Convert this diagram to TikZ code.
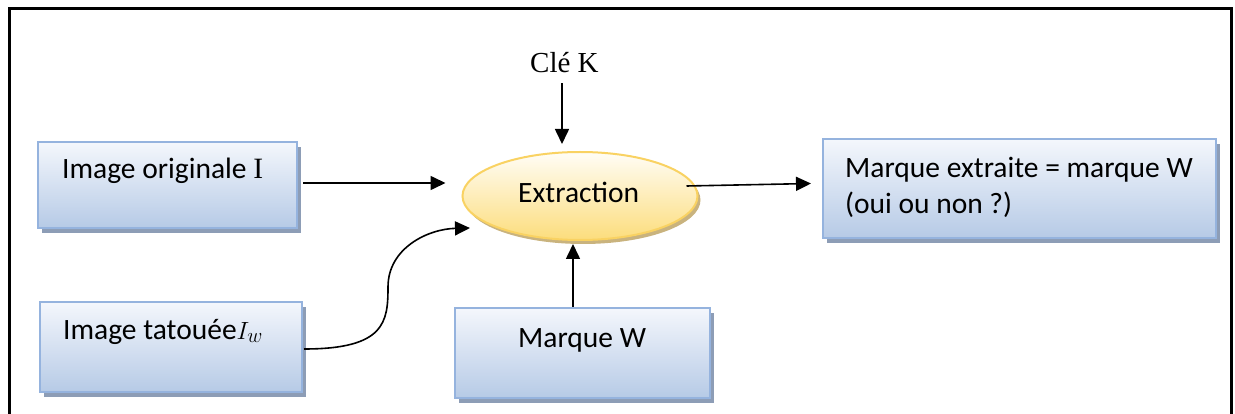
\documentclass[tikz,border=0pt]{standalone}
\usepackage{fontspec}
\setmainfont{Liberation Serif}
\newfontfamily\calib{Carlito}
\usetikzlibrary{arrows.meta,shadows,shapes.geometric}
\definecolor{boxtop}{HTML}{F4F7FC}
\definecolor{boxbot}{HTML}{B6CAE6}
\definecolor{boxline}{HTML}{95B3DE}
\definecolor{boxshadow}{HTML}{8D9DB6}
\definecolor{elltop}{HTML}{FFFDF6}
\definecolor{ellbot}{HTML}{FCDD7C}
\definecolor{ellline}{HTML}{F9D262}
\definecolor{ellshadow}{HTML}{C9B37E}
\tikzset{
  bluebox/.style={rectangle, draw=boxline, line width=2pt, top color=boxtop, bottom color=boxbot,
    drop shadow={shadow xshift=4pt, shadow yshift=-5pt, fill=boxshadow, opacity=1}, inner sep=0pt},
  yellowell/.style={ellipse, draw=ellline, line width=2pt, top color=elltop, bottom color=ellbot,
    drop shadow={shadow xshift=3pt, shadow yshift=-4pt, fill=ellshadow, opacity=1}, inner sep=0pt},
  lbl/.style={font=\calib\fontsize{29.5}{35}\selectfont, inner sep=0pt, anchor=base west},
  arr/.style={line width=1.6pt, -{Triangle[length=15pt,width=14pt]}},
}
\begin{document}
\begin{tikzpicture}[x=1pt,y=-1pt]
\useasboundingbox (0,0) rectangle (1235,414);
% outer frame, open at the bottom
\draw[line width=3pt] (9,414) -- (9,9) -- (1231.5,9) -- (1231.5,414);

% boxes
\node[bluebox, minimum width=259pt, minimum height=86pt] (b1) at (167.5,185) {};
\node[bluebox, minimum width=262pt, minimum height=90pt] (b4) at (171,347) {};
\node[bluebox, minimum width=255pt, minimum height=90pt] (b5) at (582.5,353) {};
\node[bluebox, minimum width=393pt, minimum height=99pt] (b3) at (1019.5,188.5) {};
\node[yellowell, minimum width=235pt, minimum height=88pt] (ell) at (580,196) {};

% texts
\node[lbl] (t1) at (62,179) {Image originale {\rmfamily I}};
\node[lbl] (t4) at (63,339) {Image tatouée$I_w$};
\node[lbl] (t5) at (518,347) {Marque W};
\node[lbl] (t3a) at (845,178) {Marque extraite = marque W};
\node[lbl] (t3b) at (845,214) {(oui ou non ?)};
\node[lbl] (te) at (518,203) {Extraction};
\node[font=\fontsize{29}{35}\selectfont, inner sep=0pt, anchor=base west] (k) at (530,73) {Clé K};

% connectors
\draw[arr] ([xshift=-18pt,yshift=-10pt]k.south -| ell.north) -- ([xshift=-18pt,yshift=7pt]ell.north);
\draw[arr] ([xshift=5pt,yshift=2pt]b1.east) -- ([xshift=-16pt,yshift=13pt]ell.west);
\draw[arr] ([xshift=-12pt,yshift=10pt]ell.east) -- ([xshift=-11pt,yshift=5pt]b3.west);
\draw[arr] ([xshift=-9.5pt]b5.north) -- ([xshift=-7pt,yshift=-3pt]ell.south);
\draw[arr] ([xshift=1pt,yshift=-2pt]b4.east) .. controls (385,349) and (388,322) .. (388,287)
  .. controls (388,248) and (428,229) .. (470,228);
\end{tikzpicture}
\end{document}
